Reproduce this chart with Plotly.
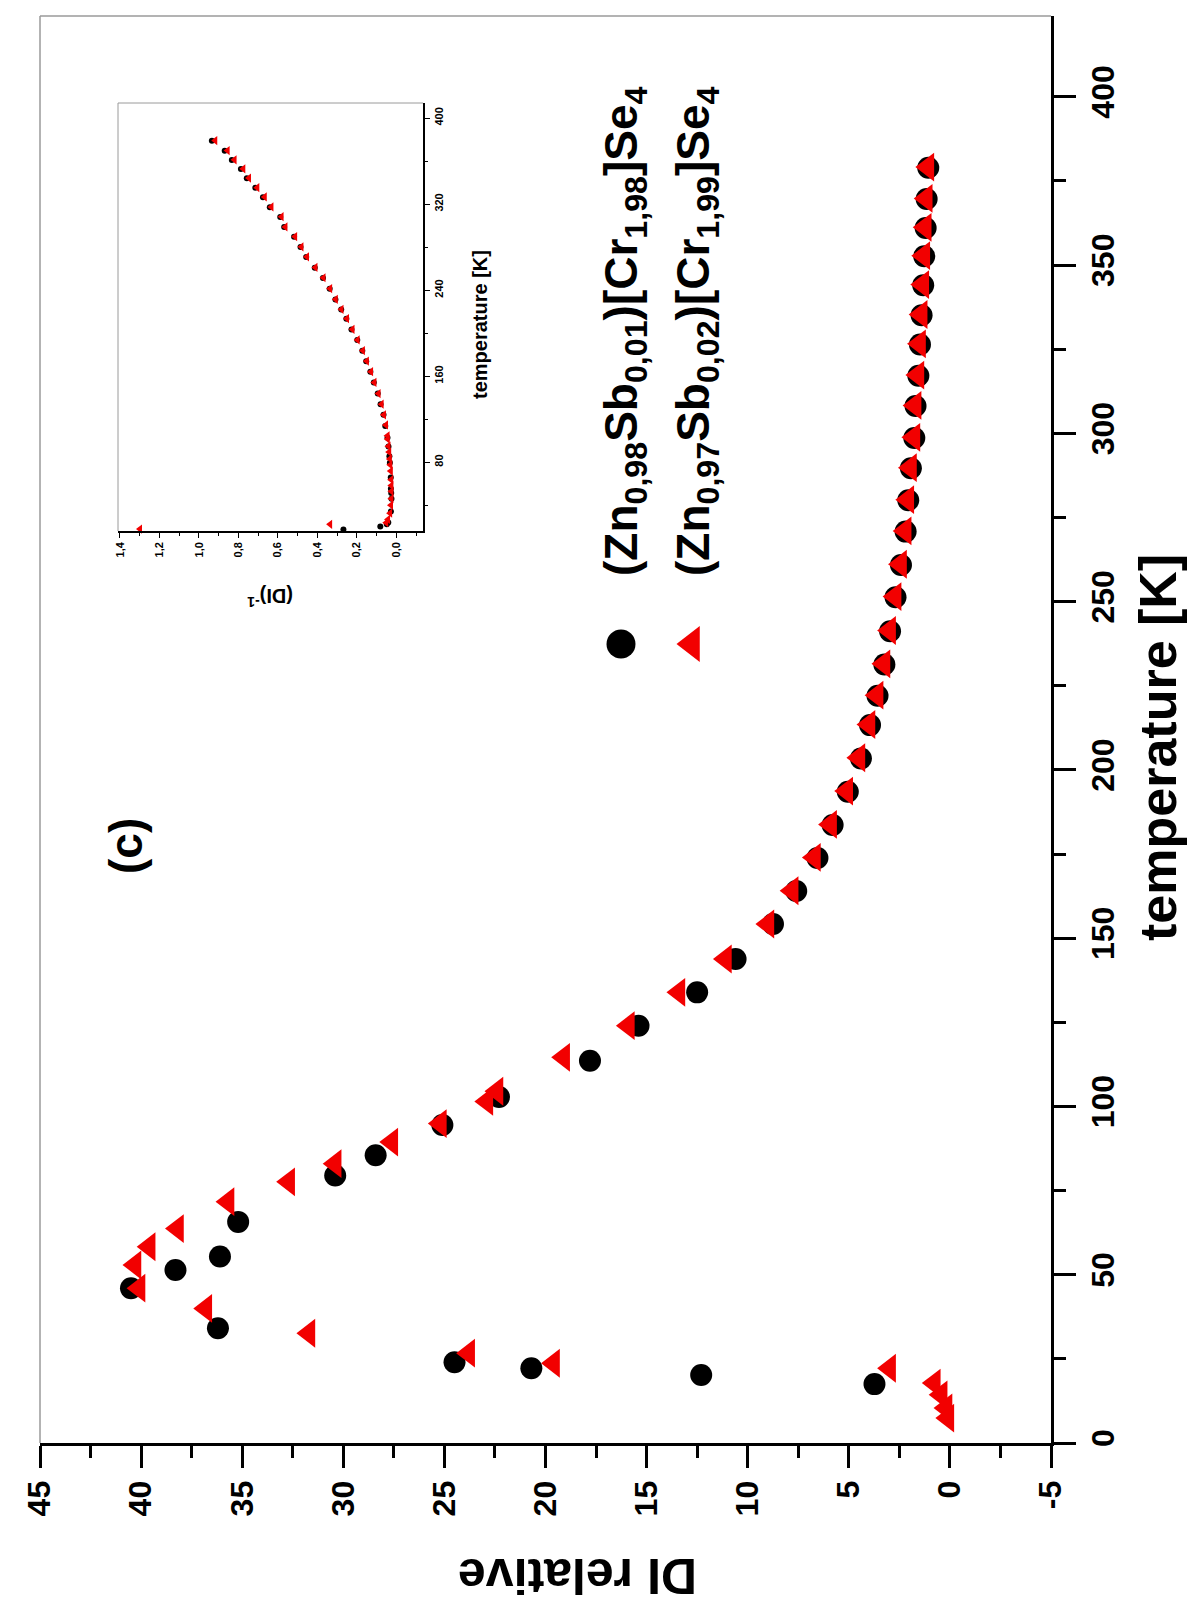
import plotly.graph_objects as go

# ---------------- data ----------------
# series 1: (Zn0,98Sb0,01)[Cr1,98]Se4  -> black circles
T_black = [17.5, 20.2, 22.2, 24.0, 34.1, 46.0, 51.4, 55.4, 65.7, 79.5, 85.5, 94.5,
           102.8, 113.6, 124.0, 133.9, 143.8, 154.2, 164.0, 173.8, 183.6, 193.5,
           203.4, 213.3, 222.0, 231.3, 241.2, 251.3, 260.9, 270.8, 280.1, 289.6,
           298.6, 308.1, 317.1, 326.4, 335.1, 344.0, 352.6, 361.0, 369.6, 378.9]
DI_black = [3.73, 12.3, 20.7, 24.5, 36.2, 40.5, 38.3, 36.1, 35.2, 30.4, 28.4, 25.1,
            22.3, 17.8, 15.4, 12.5, 10.6, 8.75, 7.6, 6.55, 5.8, 5.05,
            4.4, 3.95, 3.58, 3.24, 2.96, 2.69, 2.42, 2.19, 2.06, 1.93,
            1.76, 1.70, 1.56, 1.48, 1.40, 1.32, 1.27, 1.20, 1.15, 1.07]

# series 2: (Zn0,97Sb0,02)[Cr1,99]Se4  -> red triangles
T_red = [7.4, 10.4, 14.3, 17.8, 22.2, 23.7, 26.7, 32.6, 40.0, 46.0, 52.9, 58.3,
         63.7, 71.7, 77.6, 83.0, 89.4, 94.9, 101.5, 104.5, 114.6, 124.0, 133.9,
         143.8, 154.2, 164.1, 174.0, 183.8, 193.7, 203.6, 213.5, 222.2, 231.5,
         241.4, 251.5, 261.1, 271.0, 280.3, 289.8, 298.8, 308.3, 317.3, 326.6,
         335.3, 344.2, 352.8, 361.2, 369.8, 379.1]
DI_red = [0.10, 0.19, 0.43, 0.77, 2.98, 19.6, 23.8, 31.7, 36.8, 40.1, 40.3, 39.6,
          38.2, 35.7, 32.7, 30.4, 27.6, 25.2, 22.9, 22.4, 19.1, 15.9, 13.4,
          11.1, 9.0, 7.8, 6.7, 5.9, 5.1, 4.5, 4.0, 3.6, 3.26,
          2.98, 2.71, 2.44, 2.21, 2.08, 1.95, 1.78, 1.72, 1.58, 1.50,
          1.42, 1.34, 1.29, 1.22, 1.17, 1.09]

DI_ticks = [45, 40, 35, 30, 25, 20, 15, 10, 5, 0, -5]
DI_ticktext = ["45", "40", "35", "30", "25", "20", "15", "10", "5", "0", "-5"]
T_ticks = [0, 50, 100, 150, 200, 250, 300, 350, 400]

inv_ticks = [1.4, 1.2, 1.0, 0.8, 0.6, 0.4, 0.2, 0.0]
inv_ticktext = ["1,4", "1,2", "1,0", "0,8", "0,6", "0,4", "0,2", "0,0"]
T_inset_ticks = [80, 160, 240, 320, 400]

label_black = "(Zn<sub>0,98</sub>Sb<sub>0,01</sub>)[Cr<sub>1,98</sub>]Se<sub>4</sub>"
label_red = "(Zn<sub>0,97</sub>Sb<sub>0,02</sub>)[Cr<sub>1,99</sub>]Se<sub>4</sub>"

# ---------------- layout geometry (pixels) ----------------
W, H = 1199, 1601
PL, PR, PT, PB = 32, 1043, 8, 1435   # main plot area edges


def fx(px):
    return (px - PL) / (PR - PL)


def fy(py):
    return (PB - py) / (PB - PT)


FONT = "Liberation Sans, Arial, sans-serif"
RED = "#f20000"

inv_black = [1.0 / v for v in DI_black]
inv_red = [1.0 / v for v in DI_red]
ib_x = [a for a in inv_black if a <= 1.41]
ib_y = [t for a, t in zip(inv_black, T_black) if a <= 1.41]
ir_x = [a for a in inv_red if a <= 1.41]
ir_y = [t for a, t in zip(inv_red, T_red) if a <= 1.41]

fig = go.Figure()

# main traces
fig.add_trace(go.Scatter(x=DI_black, y=T_black, mode="markers",
                         marker=dict(symbol="circle", size=22, color="black"),
                         xaxis="x", yaxis="y", showlegend=False))
fig.add_trace(go.Scatter(x=DI_red, y=T_red, mode="markers",
                         marker=dict(symbol="triangle-left", size=25, color=RED),
                         xaxis="x", yaxis="y", showlegend=False))

# inset traces
fig.add_trace(go.Scatter(x=ib_x, y=ib_y, mode="markers",
                         marker=dict(symbol="circle", size=6, color="black"),
                         xaxis="x2", yaxis="y2", showlegend=False, cliponaxis=False))
fig.add_trace(go.Scatter(x=ir_x, y=ir_y, mode="markers",
                         marker=dict(symbol="triangle-left", size=8, color=RED),
                         xaxis="x2", yaxis="y2", showlegend=False, cliponaxis=False))

# legend keys (overlay axis in paper fractions)
fig.add_trace(go.Scatter(x=[fx(613)], y=[fy(636)], mode="markers",
                         marker=dict(symbol="circle", size=29, color="black"),
                         xaxis="x3", yaxis="y3", showlegend=False, cliponaxis=False))
fig.add_trace(go.Scatter(x=[fx(684)], y=[fy(636)], mode="markers",
                         marker=dict(symbol="triangle-left", size=31, color=RED),
                         xaxis="x3", yaxis="y3", showlegend=False, cliponaxis=False))

tickfont = dict(family=FONT, size=32, color="black", weight="bold")
inset_tickfont = dict(family=FONT, size=11, color="black", weight="bold")

inset_x0, inset_x1 = fx(110), fx(415)
inset_y0, inset_y1 = fy(523), fy(95)

fig.update_layout(
    width=W, height=H,
    margin=dict(l=PL, r=W - PR, t=PT, b=H - PB),
    paper_bgcolor="white", plot_bgcolor="white",
    showlegend=False,
    xaxis=dict(domain=[0, 1], range=[45, -5], anchor="y",
               tickmode="array", tickvals=DI_ticks, ticktext=DI_ticktext,
               tickangle=-90, tickfont=tickfont,
               ticks="outside", ticklen=22, tickwidth=3, tickcolor="black",
               minor=dict(dtick=2.5, ticks="outside", ticklen=12, tickwidth=3,
                          tickcolor="black"),
               showline=True, linewidth=3, linecolor="black",
               showgrid=False, zeroline=False),
    yaxis=dict(domain=[0, 1], range=[0, 424], anchor="x", side="right",
               tickmode="array", tickvals=T_ticks,
               tickangle=-90, tickfont=tickfont,
               ticks="outside", ticklen=22, tickwidth=3, tickcolor="black",
               minor=dict(dtick=25, ticks="outside", ticklen=12, tickwidth=3,
                          tickcolor="black"),
               showline=True, linewidth=3, linecolor="black",
               showgrid=False, zeroline=False),
    xaxis2=dict(domain=[inset_x0, inset_x1], range=[1.41, -0.135], anchor="y2",
                tickmode="array", tickvals=inv_ticks, ticktext=inv_ticktext,
                tickangle=-90, tickfont=inset_tickfont,
                ticks="outside", ticklen=5, tickwidth=1.2, tickcolor="black",
                minor=dict(dtick=0.1, ticks="outside", ticklen=3, tickwidth=1,
                           tickcolor="black"),
                showline=True, linewidth=1.5, linecolor="black",
                showgrid=False, zeroline=False),
    yaxis2=dict(domain=[inset_y0, inset_y1], range=[16, 414], anchor="x2", side="right",
                tickmode="array", tickvals=T_inset_ticks,
                tickangle=-90, tickfont=inset_tickfont,
                ticks="outside", ticklen=5, tickwidth=1.2, tickcolor="black",
                minor=dict(dtick=40, ticks="outside", ticklen=3, tickwidth=1,
                           tickcolor="black"),
                showline=True, linewidth=1.5, linecolor="black",
                showgrid=False, zeroline=False),
    xaxis3=dict(domain=[0, 1], range=[0, 1], overlaying="x", anchor="y3",
                visible=False),
    yaxis3=dict(domain=[0, 1], range=[0, 1], overlaying="y", anchor="x3",
                visible=False),
)

# frame lines (top / left) of main plot and inset
gray = "#9a9a9a"
fig.add_shape(type="line", xref="x domain", yref="y domain", x0=0, x1=1, y0=1, y1=1,
              line=dict(color=gray, width=1.5))
fig.add_shape(type="line", xref="x domain", yref="y domain", x0=0, x1=0, y0=0, y1=1,
              line=dict(color=gray, width=1.5))
fig.add_shape(type="line", xref="x2 domain", yref="y2 domain", x0=0, x1=1, y0=1, y1=1,
              line=dict(color=gray, width=1))
fig.add_shape(type="line", xref="x2 domain", yref="y2 domain", x0=0, x1=0, y0=0, y1=1,
              line=dict(color=gray, width=1))


def ann(text, px, py, size, angle, xanchor="center", yanchor="middle"):
    fig.add_annotation(text=text, x=fx(px), y=fy(py), xref="paper", yref="paper",
                       showarrow=False, textangle=angle,
                       xanchor=xanchor, yanchor=yanchor,
                       font=dict(family=FONT, size=size, color="black", weight="bold"))


ann("(c)", 118, 838, 46, -90)
ann("temperature [K]", 1150, 740, 52, -90)
ann("DI relative", 570, 1568, 50, 180)
ann(label_black, 616, 570, 46, -90, yanchor="bottom")
ann(label_red, 688, 570, 46, -90, yanchor="bottom")
ann("temperature [K]", 472, 317, 20, -90)
ann("(DI)<sup>-1</sup>", 262, 590, 20, 180)

fig.write_html("out.html")
